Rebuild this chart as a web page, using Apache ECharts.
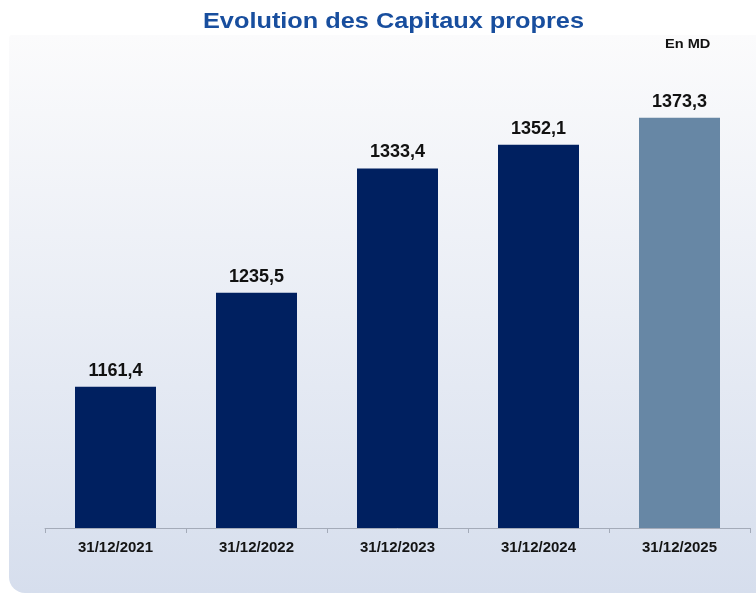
<!DOCTYPE html>
<html>
<head>
<meta charset="utf-8">
<script src="https://cdn.jsdelivr.net/npm/echarts@6/dist/echarts.min.js"></script>
<style>
  html, body { margin: 0; padding: 0; background: #ffffff; }
  #chart { width: 756px; height: 595px; }
</style>
</head>
<body>
<div id="chart"></div>
<script>
  // data (en MD)
  const dates = ["31/12/2021", "31/12/2022", "31/12/2023", "31/12/2024", "31/12/2025"]
  const capitaux = [1161.4, 1235.5, 1333.4, 1352.1, 1373.3]
  const barColors = ["#002060", "#002060", "#002060", "#002060", "#6787a5"]

  const myChart = echarts.init(document.getElementById("chart"))

  const option = {
    animation: false,
    graphic: [
      {
        type: "rect",
        silent: true,
        z: -10,
        shape: { x: 9, y: 35, width: 760, height: 558, r: [3, 0, 0, 16] },
        style: {
          fill: new echarts.graphic.LinearGradient(0, 0, 0, 1, [
            { offset: 0, color: "#fbfbfc" },
            { offset: 0.5, color: "#e9edf5" },
            { offset: 1, color: "#d6deed" }
          ])
        }
      },
      {
        // title, a bit wider than plain Arial like in the original
        type: "text",
        x: 203,
        y: 11,
        scaleX: 1.15,
        style: {
          text: "Evolution des Capitaux propres",
          fontFamily: "Liberation Sans",
          fontSize: 22,
          fontWeight: "bold",
          fill: "#184e9e",
          textVerticalAlign: "top"
        }
      },
      {
        type: "text",
        x: 665,
        y: 37,
        scaleX: 1.08,
        style: {
          text: "En MD",
          fontFamily: "Liberation Sans",
          fontSize: 13.5,
          fontWeight: "bold",
          fill: "#111111",
          textVerticalAlign: "top"
        }
      }
    ],
    grid: {
      left: 45,
      right: 6,
      top: 84,
      bottom: 67
    },
    xAxis: {
      type: "category",
      data: dates,
      axisLine: { lineStyle: { color: "#a4abb9", width: 1 } },
      axisTick: { show: true, length: 5, lineStyle: { color: "#a4abb9" } },
      axisLabel: {
        margin: 12,
        fontFamily: "Liberation Sans",
        fontSize: 15,
        fontWeight: "bold",
        color: "#141414"
      }
    },
    yAxis: {
      type: "value",
      min: 1050,
      max: 1400,
      show: false,
      splitLine: { show: false }
    },
    series: [
      {
        type: "bar",
        barWidth: 81,
        data: capitaux.map((v, i) => ({ value: v, itemStyle: { color: barColors[i] } })),
        label: {
          show: true,
          position: "top",
          distance: 7,
          fontFamily: "Liberation Sans",
          fontSize: 18,
          fontWeight: "bold",
          color: "#111111",
          formatter: (p) => p.value.toFixed(1).replace(".", ",")
        }
      }
    ]
  }

  myChart.setOption(option)
</script>
</body>
</html>
